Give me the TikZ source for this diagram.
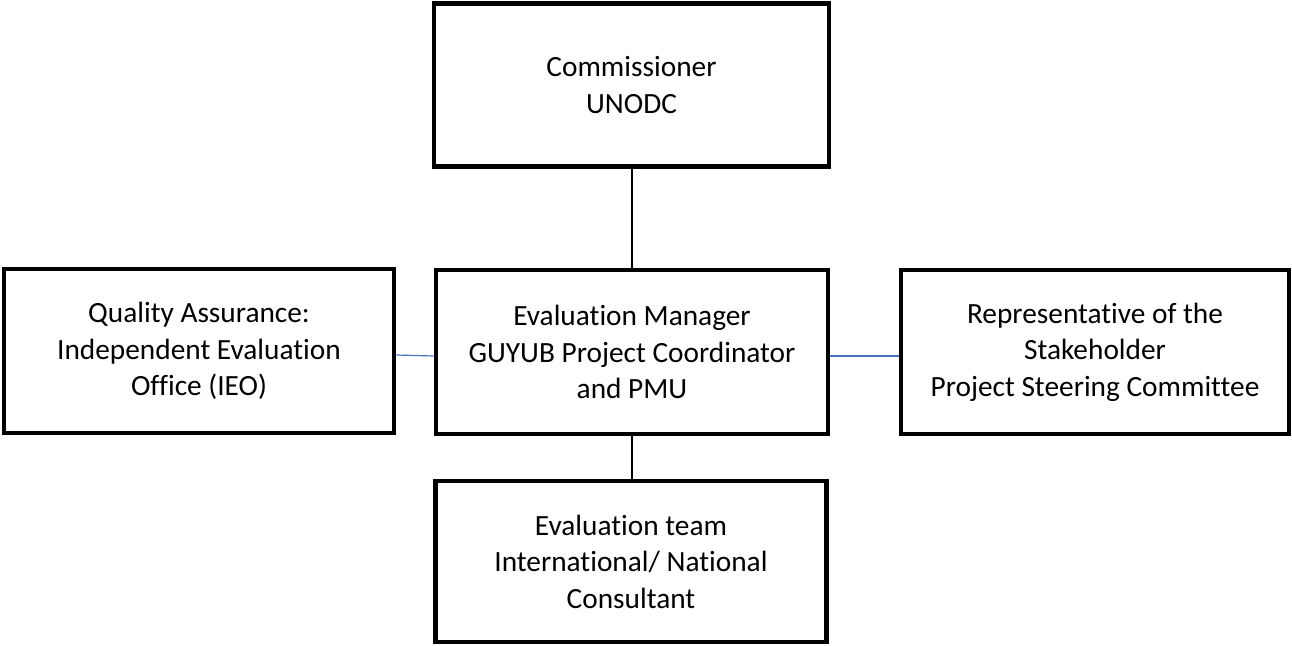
\documentclass[tikz,border=0pt]{standalone}
\usepackage{fontspec}
\setmainfont{Carlito}[Ligatures=NoCommon]
\definecolor{linkblue}{RGB}{68,114,196}
\begin{document}
\begin{tikzpicture}[x=0.75pt,y=-0.75pt,
  box/.style={draw=black, line width=3.4pt, fill=white, align=center, inner sep=0pt,
    font=\fontsize{22}{27.4}\selectfont},
  link/.style={draw=black, line width=0.8pt},
  blink/.style={draw=linkblue, line width=0.9pt}]
\useasboundingbox (0,0) rectangle (1292,646);
\node[box, minimum width=296.25pt, minimum height=122.25pt] (comm) at (631.5,85) {Commissioner\\UNODC};
\node[box, minimum width=294pt, minimum height=123pt] (em) at (632,352) {Evaluation Manager\\GUYUB Project Coordinator\\and PMU};
\node[box, minimum width=292.5pt, minimum height=123pt] (qa) at (199,351) {Quality Assurance:\\Independent Evaluation\\Office (IEO)};
\node[box, minimum width=291pt, minimum height=123pt] (rep) at (1095,352) {Representative of the\\Stakeholder\\Project Steering Committee};
\node[box, minimum width=293.25pt, minimum height=120.75pt] (team) at (631,561.5) {Evaluation team\\International/ National\\Consultant};
\draw[link] (comm.south -| em.north) -- (em.north);
\draw[link] (em.south) -- (em.south |- team.north);
\draw[blink] ([yshift=-3pt]qa.east) -- ([yshift=-3pt]em.west);
\draw[blink] ([yshift=-3pt]em.east) -- ([yshift=-3pt]rep.west);
\end{tikzpicture}
\end{document}
